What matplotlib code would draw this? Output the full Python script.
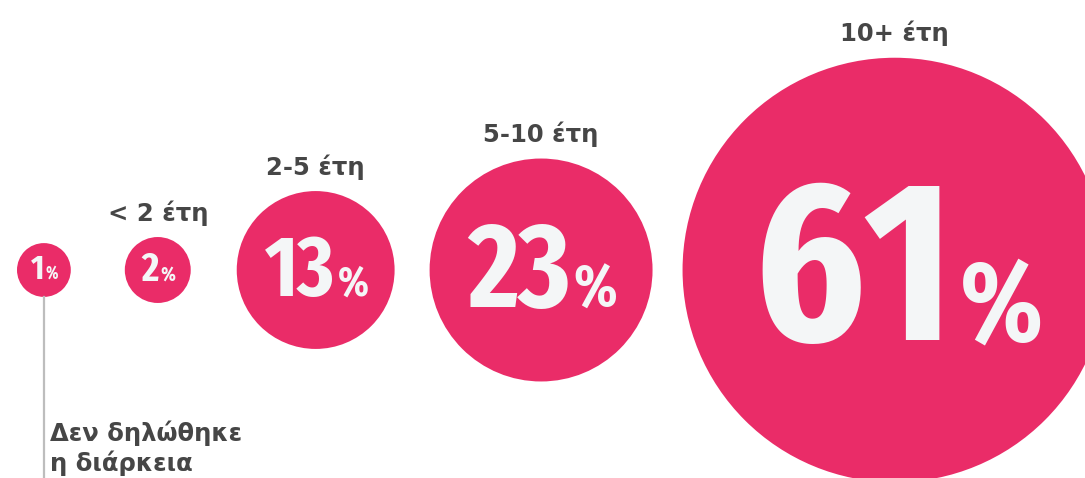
import matplotlib
matplotlib.use('Agg')
import matplotlib.pyplot as plt
from matplotlib.patches import Circle
from matplotlib import font_manager
from matplotlib.font_manager import FontProperties
from matplotlib.textpath import TextPath

# share of respondents by duration
shares = [1, 2, 13, 23, 61]
duration_labels = ['', '< 2 έτη', '2-5 έτη', '5-10 έτη', '10+ έτη']
note_text = 'Δεν δηλώθηκε\nη διάρκεια'

pink = '#EA2C68'
label_color = '#464646'
W, H = 1085, 478


def pick_condensed():
    # look for a bold condensed / narrow face among installed fonts
    best, best_score = None, -1
    for f in font_manager.fontManager.ttflist:
        st = str(f.stretch).lower()
        nm = f.name.lower()
        fn = f.fname.lower()
        score = 0
        if 'extra' in st or 'extracondensed' in fn:
            score += 30
        if 'condensed' in st or 'condensed' in nm or 'narrow' in nm or 'condensed' in fn or 'narrow' in fn:
            score += 50
        else:
            continue
        if f.style != 'normal' or 'italic' in fn:
            continue
        w = f.weight if isinstance(f.weight, int) else 400
        if w >= 700:
            score += 20 - abs(w - 700) // 100 * 3
        if 'sans' in nm or 'sans' in fn or 'roboto' in nm:
            score += 5
        if score > best_score:
            best, best_score = f, score
    if best is None:
        return FontProperties(family='DejaVu Sans', weight='bold')
    return FontProperties(fname=best.fname)


num_prop = pick_condensed()
ink = TextPath((0, 0), '0123456789', size=100, prop=num_prop).get_extents()
cap = ink.height / 100
width_ratio = ink.width / 100 / 10 / cap  # digit advance vs digit height

fig = plt.figure(figsize=(W / 100, H / 100), dpi=100)
ax = fig.add_axes([0, 0, 1, 1])
ax.set_xlim(0, W)
ax.set_ylim(H, 0)
ax.axis('off')
renderer = fig.canvas.get_renderer()

# layout: radius from value, circles packed left to right
radii = [18 + 8.9 * v ** 0.75 for v in shares]
gaps = [54, 46, 35, 30]
cy = 270
centers = [17 + radii[0]]
for i in range(1, len(shares)):
    centers.append(centers[-1] + radii[i - 1] + gaps[i - 1] + radii[i])

for v, lab, cx, r in zip(shares, duration_labels, centers, radii):
    ax.add_patch(Circle((cx, cy), r, facecolor=pink, edgecolor='none'))

    digit_h = 0.8 * r if r > 40 else 0.8 * r + 4
    # keep the number from getting much wider than the reference's narrow face
    if width_ratio > 0.6:
        digit_h *= 0.6 / width_ratio
    fs = digit_h / cap * 0.72
    base = cy + 0.33 * r
    t1 = ax.text(0, base, str(v), fontproperties=num_prop, fontsize=fs,
                 color='#F4F6F7', ha='left', va='baseline')
    t2 = ax.text(0, base, '%', fontproperties=num_prop, fontsize=fs * 0.5,
                 color='#F4F6F7', ha='left', va='baseline')
    w1 = t1.get_window_extent(renderer).width
    w2 = t2.get_window_extent(renderer).width
    x0 = cx - (w1 + w2) / 2
    t1.set_x(x0)
    t2.set_x(x0 + w1 + 0.03 * r)

    if lab:
        ax.text(cx, cy - r - 24, lab, fontsize=17.5, fontweight='bold', color=label_color,
                ha='center', va='center')

# pointer for the smallest bubble
ax.plot([centers[0], centers[0]], [cy + radii[0], H], color='#BDBDBD', lw=1.6)
ax.text(centers[0] + 6, 420, note_text, fontsize=17.5, fontweight='bold', color=label_color,
        ha='left', va='top', linespacing=1.25)

fig.savefig('out.png', dpi=100)
